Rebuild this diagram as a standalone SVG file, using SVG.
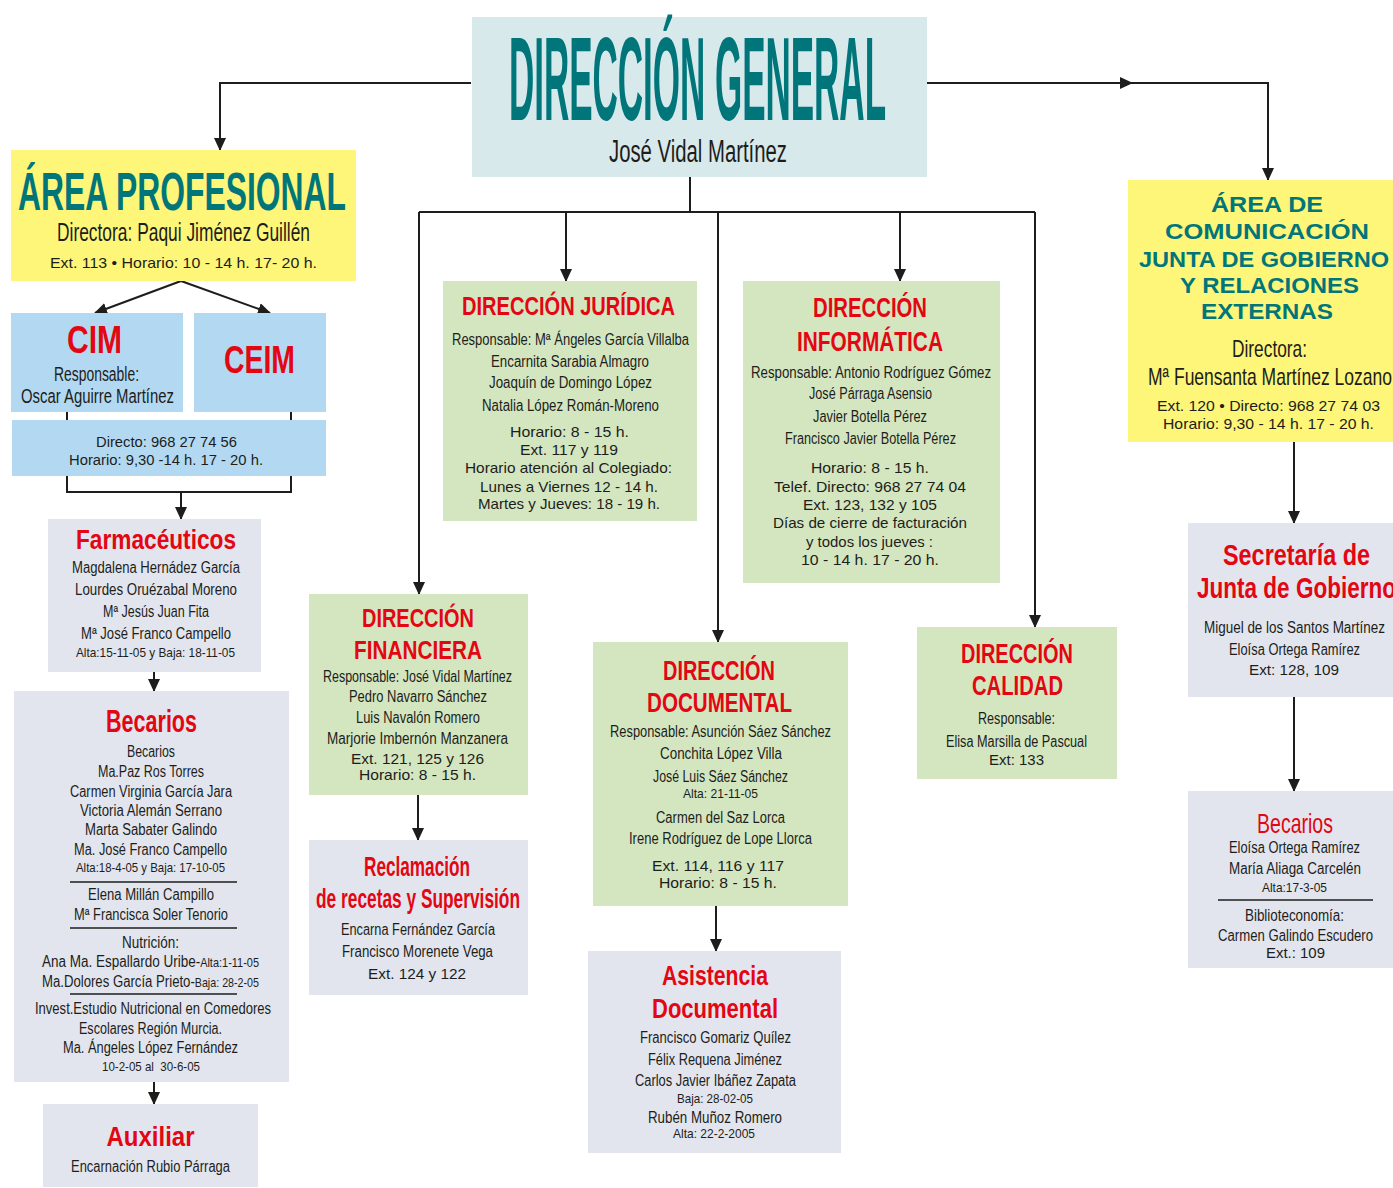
<svg xmlns="http://www.w3.org/2000/svg" width="1393" height="1188" viewBox="0 0 1393 1188">
<style>
.bg{fill:#ffffff}
.dg{fill:#d8e9ec}
.ye{fill:#fef678}
.bl{fill:#b2d9f1}
.gr{fill:#e2e5ed}
.gn{fill:#d4e6c0}
text{text-anchor:middle}
.tl{font-family:"Liberation Sans Narrow","Liberation Sans",Arial,sans-serif;font-weight:bold;fill:#00767b}
.tw{font-family:"Liberation Sans",Arial,sans-serif;font-weight:bold;fill:#00767b;font-size:22px}
.rt{font-family:"Liberation Sans Narrow","Liberation Sans",Arial,sans-serif;font-weight:bold;fill:#e30613}
.rn{font-family:"Liberation Sans Narrow","Liberation Sans",Arial,sans-serif;fill:#e30613}
.b{font-family:"Liberation Sans Narrow","Liberation Sans",Arial,sans-serif;fill:#1d1d1b;font-size:16px}
.w{font-family:"Liberation Sans",Arial,sans-serif;fill:#1d1d1b;font-size:14.5px}
.s{font-family:"Liberation Sans Narrow","Liberation Sans",Arial,sans-serif;fill:#1d1d1b;font-size:13px}
.cn{fill:none;stroke:#1d1d1b;stroke-width:2}
.sep{stroke:#1d1d1b;stroke-width:1.5}
</style>
<defs>
<marker id="ah" markerUnits="userSpaceOnUse" markerWidth="13" markerHeight="12" refX="12" refY="6" orient="auto">
<path d="M0,0 L13,6 L0,12 z" fill="#1d1d1b"/>
</marker>
</defs>
<rect class="bg" x="0" y="0" width="1393" height="1188"/>

<g id="connectors">
<path class="cn" d="M471,83 H220 V150" marker-end="url(#ah)"/>
<path class="cn" d="M927,83 H1132" marker-end="url(#ah)"/>
<path class="cn" d="M1128,83 H1268 V180" marker-end="url(#ah)"/>
<path class="cn" d="M690,170 V212"/>
<path class="cn" d="M419,212 H1035"/>
<path class="cn" d="M419,212 V594" marker-end="url(#ah)"/>
<path class="cn" d="M566,212 V281" marker-end="url(#ah)"/>
<path class="cn" d="M718,212 V642" marker-end="url(#ah)"/>
<path class="cn" d="M900,212 V281" marker-end="url(#ah)"/>
<path class="cn" d="M1035,212 V627" marker-end="url(#ah)"/>
<path class="cn" d="M181,281 L95,313" marker-end="url(#ah)"/>
<path class="cn" d="M181,281 L270,313" marker-end="url(#ah)"/>
<path class="cn" d="M67,412 V492 H291 V412"/>
<path class="cn" d="M181,492 V519" marker-end="url(#ah)"/>
<path class="cn" d="M154,672 V691" marker-end="url(#ah)"/>
<path class="cn" d="M154,1082 V1104" marker-end="url(#ah)"/>
<path class="cn" d="M418,795 V840" marker-end="url(#ah)"/>
<path class="cn" d="M716,906 V951" marker-end="url(#ah)"/>
<path class="cn" d="M1294,442 V523" marker-end="url(#ah)"/>
<path class="cn" d="M1294,697 V791" marker-end="url(#ah)"/>
</g>

<g id="direccion-general">
<rect class="dg" x="472" y="17" width="455" height="160"/>
<text class="tl" x="697.5" y="120" style="font-size:118px" textLength="377" lengthAdjust="spacingAndGlyphs">DIRECCIÓN GENERAL</text>
<text class="b" x="698" y="162" style="font-size:31px" textLength="178" lengthAdjust="spacingAndGlyphs">José Vidal Martínez</text>
</g>

<g id="area-profesional">
<rect class="ye" x="11" y="150" width="345" height="131"/>
<text class="tl" x="182" y="210" style="font-size:53px" textLength="328" lengthAdjust="spacingAndGlyphs">ÁREA PROFESIONAL</text>
<text class="b" x="183.5" y="241" style="font-size:26px" textLength="253" lengthAdjust="spacingAndGlyphs">Directora: Paqui Jiménez Guillén</text>
<text class="w" x="183.5" y="268" style="font-size:15px" textLength="267" lengthAdjust="spacingAndGlyphs">Ext. 113 • Horario: 10 - 14 h. 17- 20 h.</text>
</g>

<g id="cim">
<rect class="bl" x="11" y="313" width="172" height="99"/>
<text class="rt" x="94.5" y="353" style="font-size:38px" textLength="55" lengthAdjust="spacingAndGlyphs">CIM</text>
<text class="b" x="96.5" y="381" style="font-size:20px" textLength="85" lengthAdjust="spacingAndGlyphs">Responsable:</text>
<text class="b" x="97.5" y="403" style="font-size:20px" textLength="153" lengthAdjust="spacingAndGlyphs">Oscar Aguirre Martínez</text>
</g>

<g id="ceim">
<rect class="bl" x="194" y="313" width="132" height="99"/>
<text class="rt" x="259.5" y="373" style="font-size:38px" textLength="71" lengthAdjust="spacingAndGlyphs">CEIM</text>
</g>

<g id="cim-ceim-contacto">
<rect class="bl" x="12" y="420" width="314" height="56"/>
<text class="w" x="166.5" y="447" style="font-size:15.5px" textLength="141" lengthAdjust="spacingAndGlyphs">Directo: 968 27 74 56</text>
<text class="w" x="166" y="465" style="font-size:15.5px" textLength="194" lengthAdjust="spacingAndGlyphs">Horario: 9,30 -14 h. 17 - 20 h.</text>
</g>

<g id="farmaceuticos">
<rect class="gr" x="48" y="519" width="213" height="153"/>
<text class="rt" x="156" y="549" style="font-size:28px" textLength="160" lengthAdjust="spacingAndGlyphs">Farmacéuticos</text>
<text class="b" x="156" y="573" textLength="168" lengthAdjust="spacingAndGlyphs">Magdalena Hernádez García</text>
<text class="b" x="156" y="595" textLength="162" lengthAdjust="spacingAndGlyphs">Lourdes Oruézabal Moreno</text>
<text class="b" x="156" y="617" textLength="106" lengthAdjust="spacingAndGlyphs">Mª Jesús Juan Fita</text>
<text class="b" x="156" y="639" textLength="150" lengthAdjust="spacingAndGlyphs">Mª José Franco Campello</text>
<text class="s" x="155.5" y="657" textLength="159" lengthAdjust="spacingAndGlyphs">Alta:15-11-05 y Baja: 18-11-05</text>
</g>

<g id="becarios-profesional">
<rect class="gr" x="14" y="691" width="275" height="391"/>
<text class="rt" x="151.5" y="732" style="font-size:32px" textLength="91" lengthAdjust="spacingAndGlyphs">Becarios</text>
<text class="b" x="151" y="757" textLength="48" lengthAdjust="spacingAndGlyphs">Becarios</text>
<text class="b" x="151" y="777" textLength="106" lengthAdjust="spacingAndGlyphs">Ma.Paz Ros Torres</text>
<text class="b" x="151" y="797" textLength="162" lengthAdjust="spacingAndGlyphs">Carmen Virginia García Jara</text>
<text class="b" x="151" y="816" textLength="142" lengthAdjust="spacingAndGlyphs">Victoria Alemán Serrano</text>
<text class="b" x="151" y="835" textLength="132" lengthAdjust="spacingAndGlyphs">Marta Sabater Galindo</text>
<text class="b" x="150.5" y="855" textLength="153" lengthAdjust="spacingAndGlyphs">Ma. José Franco Campello</text>
<text class="s" x="150.5" y="872" textLength="149" lengthAdjust="spacingAndGlyphs">Alta:18-4-05 y Baja: 17-10-05</text>
<line class="sep" x1="70" y1="882" x2="237" y2="882"/>
<text class="b" x="151" y="900" textLength="126" lengthAdjust="spacingAndGlyphs">Elena Millán Campillo</text>
<text class="b" x="151" y="920" textLength="154" lengthAdjust="spacingAndGlyphs">Mª Francisca Soler Tenorio</text>
<line class="sep" x1="70" y1="928" x2="237" y2="928"/>
<text class="b" x="150.5" y="948" textLength="57" lengthAdjust="spacingAndGlyphs">Nutrición:</text>
<text class="b" x="150.5" y="967" textLength="217" lengthAdjust="spacingAndGlyphs">Ana Ma. Espallardo Uribe-<tspan style="font-size:13px">Alta:1-11-05</tspan></text>
<text class="b" x="150.5" y="987" textLength="217" lengthAdjust="spacingAndGlyphs">Ma.Dolores García Prieto-<tspan style="font-size:13px">Baja: 28-2-05</tspan></text>
<line class="sep" x1="70" y1="994" x2="237" y2="994"/>
<text class="b" x="153" y="1014" textLength="236" lengthAdjust="spacingAndGlyphs">Invest.Estudio Nutricional en Comedores</text>
<text class="b" x="150.5" y="1034" textLength="143" lengthAdjust="spacingAndGlyphs">Escolares Región Murcia.</text>
<text class="b" x="150.5" y="1053" textLength="175" lengthAdjust="spacingAndGlyphs">Ma. Ángeles López Fernández</text>
<text class="s" x="151" y="1071" textLength="98" lengthAdjust="spacingAndGlyphs" xml:space="preserve">10-2-05 al  30-6-05</text>
</g>

<g id="auxiliar">
<rect class="gr" x="43" y="1104" width="215" height="83"/>
<text class="rt" x="150.5" y="1146" style="font-size:27px" textLength="88" lengthAdjust="spacingAndGlyphs">Auxiliar</text>
<text class="b" x="150.5" y="1172" textLength="159" lengthAdjust="spacingAndGlyphs">Encarnación Rubio Párraga</text>
</g>

<g id="direccion-juridica">
<rect class="gn" x="443" y="281" width="254" height="240"/>
<text class="rt" x="568.5" y="315" style="font-size:25px" textLength="213" lengthAdjust="spacingAndGlyphs">DIRECCIÓN JURÍDICA</text>
<text class="b" x="570.5" y="345" textLength="237" lengthAdjust="spacingAndGlyphs">Responsable: Mª Ángeles García Villalba</text>
<text class="b" x="570" y="367" textLength="158" lengthAdjust="spacingAndGlyphs">Encarnita Sarabia Almagro</text>
<text class="b" x="570.5" y="388" textLength="163" lengthAdjust="spacingAndGlyphs">Joaquín de Domingo López</text>
<text class="b" x="570.5" y="411" textLength="177" lengthAdjust="spacingAndGlyphs">Natalia López Román-Moreno</text>
<text class="w" x="569.5" y="437" textLength="119" lengthAdjust="spacingAndGlyphs">Horario: 8 - 15 h.</text>
<text class="w" x="569" y="455" textLength="98" lengthAdjust="spacingAndGlyphs">Ext. 117 y 119</text>
<text class="w" x="568.5" y="473" textLength="207" lengthAdjust="spacingAndGlyphs">Horario atención al Colegiado:</text>
<text class="w" x="569" y="492" textLength="178" lengthAdjust="spacingAndGlyphs">Lunes a Viernes 12 - 14 h.</text>
<text class="w" x="569" y="509" textLength="182" lengthAdjust="spacingAndGlyphs">Martes y Jueves: 18 - 19 h.</text>
</g>

<g id="direccion-informatica">
<rect class="gn" x="743" y="281" width="257" height="302"/>
<text class="rt" x="870" y="317" style="font-size:27px" textLength="114" lengthAdjust="spacingAndGlyphs">DIRECCIÓN</text>
<text class="rt" x="870" y="351" style="font-size:27px" textLength="146" lengthAdjust="spacingAndGlyphs">INFORMÁTICA</text>
<text class="b" x="871" y="378" textLength="240" lengthAdjust="spacingAndGlyphs">Responsable: Antonio Rodríguez Gómez</text>
<text class="b" x="870.5" y="399" textLength="123" lengthAdjust="spacingAndGlyphs">José Párraga Asensio</text>
<text class="b" x="870" y="422" textLength="114" lengthAdjust="spacingAndGlyphs">Javier Botella Pérez</text>
<text class="b" x="870.5" y="444" textLength="171" lengthAdjust="spacingAndGlyphs">Francisco Javier Botella Pérez</text>
<text class="w" x="870" y="473" textLength="118" lengthAdjust="spacingAndGlyphs">Horario: 8 - 15 h.</text>
<text class="w" x="870" y="492" textLength="192" lengthAdjust="spacingAndGlyphs">Telef. Directo: 968 27 74 04</text>
<text class="w" x="870" y="510" textLength="134" lengthAdjust="spacingAndGlyphs">Ext. 123, 132 y 105</text>
<text class="w" x="870" y="528" textLength="194" lengthAdjust="spacingAndGlyphs">Días de cierre de facturación</text>
<text class="w" x="869.5" y="547" textLength="127" lengthAdjust="spacingAndGlyphs">y todos los jueves :</text>
<text class="w" x="870" y="565" textLength="138" lengthAdjust="spacingAndGlyphs">10 - 14 h. 17 - 20 h.</text>
</g>

<g id="direccion-financiera">
<rect class="gn" x="309" y="594" width="219" height="201"/>
<text class="rt" x="418" y="627" style="font-size:26px" textLength="112" lengthAdjust="spacingAndGlyphs">DIRECCIÓN</text>
<text class="rt" x="418" y="659" style="font-size:26px" textLength="128" lengthAdjust="spacingAndGlyphs">FINANCIERA</text>
<text class="b" x="417.5" y="682" textLength="189" lengthAdjust="spacingAndGlyphs">Responsable: José Vidal Martínez</text>
<text class="b" x="418" y="702" textLength="138" lengthAdjust="spacingAndGlyphs">Pedro Navarro Sánchez</text>
<text class="b" x="418" y="723" textLength="124" lengthAdjust="spacingAndGlyphs">Luis Navalón Romero</text>
<text class="b" x="417.5" y="744" textLength="181" lengthAdjust="spacingAndGlyphs">Marjorie Imbernón Manzanera</text>
<text class="w" x="417.5" y="764" textLength="133" lengthAdjust="spacingAndGlyphs">Ext. 121, 125 y 126</text>
<text class="w" x="417.5" y="780" textLength="117" lengthAdjust="spacingAndGlyphs">Horario: 8 - 15 h.</text>
</g>

<g id="reclamacion-recetas">
<rect class="gr" x="309" y="840" width="219" height="155"/>
<text class="rt" x="417" y="876" style="font-size:28px" textLength="106" lengthAdjust="spacingAndGlyphs">Reclamación</text>
<text class="rt" x="418" y="908" style="font-size:28px" textLength="204" lengthAdjust="spacingAndGlyphs">de recetas y Supervisión</text>
<text class="b" x="418" y="935" textLength="154" lengthAdjust="spacingAndGlyphs">Encarna Fernández García</text>
<text class="b" x="417.5" y="957" textLength="151" lengthAdjust="spacingAndGlyphs">Francisco Morenete Vega</text>
<text class="w" x="417" y="979" textLength="98" lengthAdjust="spacingAndGlyphs">Ext. 124 y 122</text>
</g>

<g id="direccion-documental">
<rect class="gn" x="593" y="642" width="255" height="264"/>
<text class="rt" x="719" y="680" style="font-size:27px" textLength="112" lengthAdjust="spacingAndGlyphs">DIRECCIÓN</text>
<text class="rt" x="719.5" y="712" style="font-size:27px" textLength="145" lengthAdjust="spacingAndGlyphs">DOCUMENTAL</text>
<text class="b" x="720.5" y="737" textLength="221" lengthAdjust="spacingAndGlyphs">Responsable: Asunción Sáez Sánchez</text>
<text class="b" x="721" y="759" textLength="122" lengthAdjust="spacingAndGlyphs">Conchita López Villa</text>
<text class="b" x="720.5" y="782" textLength="135" lengthAdjust="spacingAndGlyphs">José Luis Sáez Sánchez</text>
<text class="s" x="720.5" y="798" textLength="75" lengthAdjust="spacingAndGlyphs">Alta: 21-11-05</text>
<text class="b" x="720.5" y="823" textLength="129" lengthAdjust="spacingAndGlyphs">Carmen del Saz Lorca</text>
<text class="b" x="720.5" y="844" textLength="183" lengthAdjust="spacingAndGlyphs">Irene Rodríguez de Lope Llorca</text>
<text class="w" x="718" y="871" textLength="132" lengthAdjust="spacingAndGlyphs">Ext. 114, 116 y 117</text>
<text class="w" x="718" y="888" textLength="118" lengthAdjust="spacingAndGlyphs">Horario: 8 - 15 h.</text>
</g>

<g id="asistencia-documental">
<rect class="gr" x="588" y="951" width="253" height="202"/>
<text class="rt" x="715" y="985" style="font-size:28px" textLength="106" lengthAdjust="spacingAndGlyphs">Asistencia</text>
<text class="rt" x="715" y="1018" style="font-size:28px" textLength="126" lengthAdjust="spacingAndGlyphs">Documental</text>
<text class="b" x="715.5" y="1043" textLength="151" lengthAdjust="spacingAndGlyphs">Francisco Gomariz Quílez</text>
<text class="b" x="715" y="1065" textLength="134" lengthAdjust="spacingAndGlyphs">Félix Requena Jiménez</text>
<text class="b" x="715.5" y="1086" textLength="161" lengthAdjust="spacingAndGlyphs">Carlos Javier Ibáñez Zapata</text>
<text class="s" x="715" y="1103" textLength="76" lengthAdjust="spacingAndGlyphs">Baja: 28-02-05</text>
<text class="b" x="715" y="1123" textLength="134" lengthAdjust="spacingAndGlyphs">Rubén Muñoz Romero</text>
<text class="s" x="714" y="1138" textLength="82" lengthAdjust="spacingAndGlyphs">Alta: 22-2-2005</text>
</g>

<g id="direccion-calidad">
<rect class="gn" x="917" y="627" width="200" height="152"/>
<text class="rt" x="1017" y="663" style="font-size:27px" textLength="112" lengthAdjust="spacingAndGlyphs">DIRECCIÓN</text>
<text class="rt" x="1017.5" y="695" style="font-size:27px" textLength="91" lengthAdjust="spacingAndGlyphs">CALIDAD</text>
<text class="b" x="1016.5" y="724" textLength="77" lengthAdjust="spacingAndGlyphs">Responsable:</text>
<text class="b" x="1016.5" y="747" textLength="141" lengthAdjust="spacingAndGlyphs">Elisa Marsilla de Pascual</text>
<text class="w" x="1016.5" y="765" textLength="55" lengthAdjust="spacingAndGlyphs">Ext: 133</text>
</g>

<g id="area-comunicacion">
<rect class="ye" x="1128" y="180" width="265" height="262"/>
<text class="tw" x="1267" y="212" textLength="112" lengthAdjust="spacingAndGlyphs">ÁREA DE</text>
<text class="tw" x="1267" y="239" textLength="204" lengthAdjust="spacingAndGlyphs">COMUNICACIÓN</text>
<text class="tw" x="1264" y="267" textLength="250" lengthAdjust="spacingAndGlyphs">JUNTA DE GOBIERNO</text>
<text class="tw" x="1269.5" y="293" textLength="179" lengthAdjust="spacingAndGlyphs">Y RELACIONES</text>
<text class="tw" x="1267" y="319" textLength="132" lengthAdjust="spacingAndGlyphs">EXTERNAS</text>
<text class="b" x="1269.5" y="357" style="font-size:24px" textLength="75" lengthAdjust="spacingAndGlyphs">Directora:</text>
<text class="b" x="1270" y="385" style="font-size:24px" textLength="244" lengthAdjust="spacingAndGlyphs">Mª Fuensanta Martínez Lozano</text>
<text class="w" x="1268.5" y="411" textLength="223" lengthAdjust="spacingAndGlyphs">Ext. 120 • Directo: 968 27 74 03</text>
<text class="w" x="1268.5" y="429" textLength="211" lengthAdjust="spacingAndGlyphs">Horario: 9,30 - 14 h. 17 - 20 h.</text>
</g>

<g id="secretaria-junta">
<rect class="gr" x="1188" y="523" width="205" height="174"/>
<text class="rt" x="1296.5" y="565" style="font-size:30px" textLength="147" lengthAdjust="spacingAndGlyphs">Secretaría de</text>
<text class="rt" x="1197" y="598" style="font-size:30px;text-anchor:start" textLength="199" lengthAdjust="spacingAndGlyphs">Junta de Gobierno</text>
<text class="b" x="1294.5" y="633" textLength="181" lengthAdjust="spacingAndGlyphs">Miguel de los Santos Martínez</text>
<text class="b" x="1294.5" y="655" textLength="131" lengthAdjust="spacingAndGlyphs">Eloísa Ortega Ramírez</text>
<text class="w" x="1294" y="675" textLength="90" lengthAdjust="spacingAndGlyphs">Ext: 128, 109</text>
</g>

<g id="becarios-comunicacion">
<rect class="gr" x="1188" y="791" width="205" height="177"/>
<text class="rn" x="1295" y="833" style="font-size:28px" textLength="76" lengthAdjust="spacingAndGlyphs">Becarios</text>
<text class="b" x="1294.5" y="853" textLength="131" lengthAdjust="spacingAndGlyphs">Eloísa Ortega Ramírez</text>
<text class="b" x="1295" y="874" textLength="132" lengthAdjust="spacingAndGlyphs">María Aliaga Carcelén</text>
<text class="s" x="1294.5" y="892" textLength="65" lengthAdjust="spacingAndGlyphs">Alta:17-3-05</text>
<line class="sep" x1="1218" y1="900" x2="1373" y2="900"/>
<text class="b" x="1294.5" y="921" textLength="99" lengthAdjust="spacingAndGlyphs">Biblioteconomía:</text>
<text class="b" x="1295.5" y="941" textLength="155" lengthAdjust="spacingAndGlyphs">Carmen Galindo Escudero</text>
<text class="w" x="1295.5" y="958" textLength="59" lengthAdjust="spacingAndGlyphs">Ext.: 109</text>
</g>
</svg>
